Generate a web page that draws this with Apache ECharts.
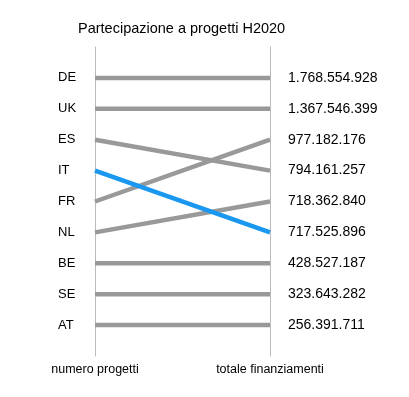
<!DOCTYPE html>
<html>
<head>
<meta charset="utf-8">
<script src="https://cdn.jsdelivr.net/npm/echarts@6/dist/echarts.min.js"></script>
<style>
  html, body { margin: 0; padding: 0; background: #fff; }
  #chart { width: 409px; height: 397px; }
</style>
</head>
<body>
<div id="chart"></div>
<script>
// paesi in ordine di numero progetti
const countries = ['DE', 'UK', 'ES', 'IT', 'FR', 'NL', 'BE', 'SE', 'AT'];
// totale finanziamenti per paese (stesso ordine)
const funding = [1768554928, 1367546399, 794161257, 717525896, 977182176, 718362840, 428527187, 323643282, 256391711];
const highlight = 'IT';

const fmt = v => String(v).replace(/\B(?=(\d{3})+(?!\d))/g, '.');
const sortedFunding = funding.slice().sort((a, b) => b - a);
const fundingLabels = sortedFunding.map(fmt);

let myChart = echarts.init(document.getElementById('chart'));

const series = countries.map((c, i) => ({
    name: c,
    type: 'line',
    symbol: 'none',
    silent: true,
    z: c === highlight ? 3 : 2,
    lineStyle: { width: 4.5, color: c === highlight ? '#1a98f0' : '#999999' },
    data: [[0, i + 1], [1, sortedFunding.indexOf(funding[i]) + 1]]
}));

const option = {
    animation: false,
    textStyle: { fontFamily: 'Liberation Sans, Arial, sans-serif', color: '#000' },
    title: {
        text: 'Partecipazione a progetti H2020',
        left: 73, top: 16,
        textStyle: { fontSize: 14.5, fontWeight: 'normal', color: '#000', fontFamily: 'Liberation Sans, Arial, sans-serif' }
    },
    grid: { left: 95, right: 139, top: 47, bottom: 41 },
    xAxis: {
        type: 'value', min: 0, max: 1, interval: 1,
        axisLine: { show: false }, axisTick: { show: false }, splitLine: { show: false },
        axisLabel: {
            margin: 7, fontSize: 12.5, color: '#000',
            formatter: v => v === 0 ? 'numero progetti' : 'totale finanziamenti'
        }
    },
    yAxis: [
        {
            type: 'value', inverse: true, min: 0, max: 10, interval: 1, position: 'left',
            axisLine: { show: true, lineStyle: { color: '#bbbbbb', width: 1 } },
            axisTick: { show: false }, splitLine: { show: false },
            axisLabel: {
                align: 'left', margin: 37, fontSize: 13, color: '#000',
                formatter: v => countries[v - 1] || ''
            }
        },
        {
            type: 'value', inverse: true, min: 0, max: 10, interval: 1, position: 'right',
            axisLine: { show: true, lineStyle: { color: '#bbbbbb', width: 1 } },
            axisTick: { show: false }, splitLine: { show: false },
            axisLabel: {
                align: 'left', margin: 18, fontSize: 14, color: '#000',
                formatter: v => fundingLabels[v - 1] || ''
            }
        }
    ],
    series: series
};

myChart.setOption(option);
</script>
</body>
</html>
